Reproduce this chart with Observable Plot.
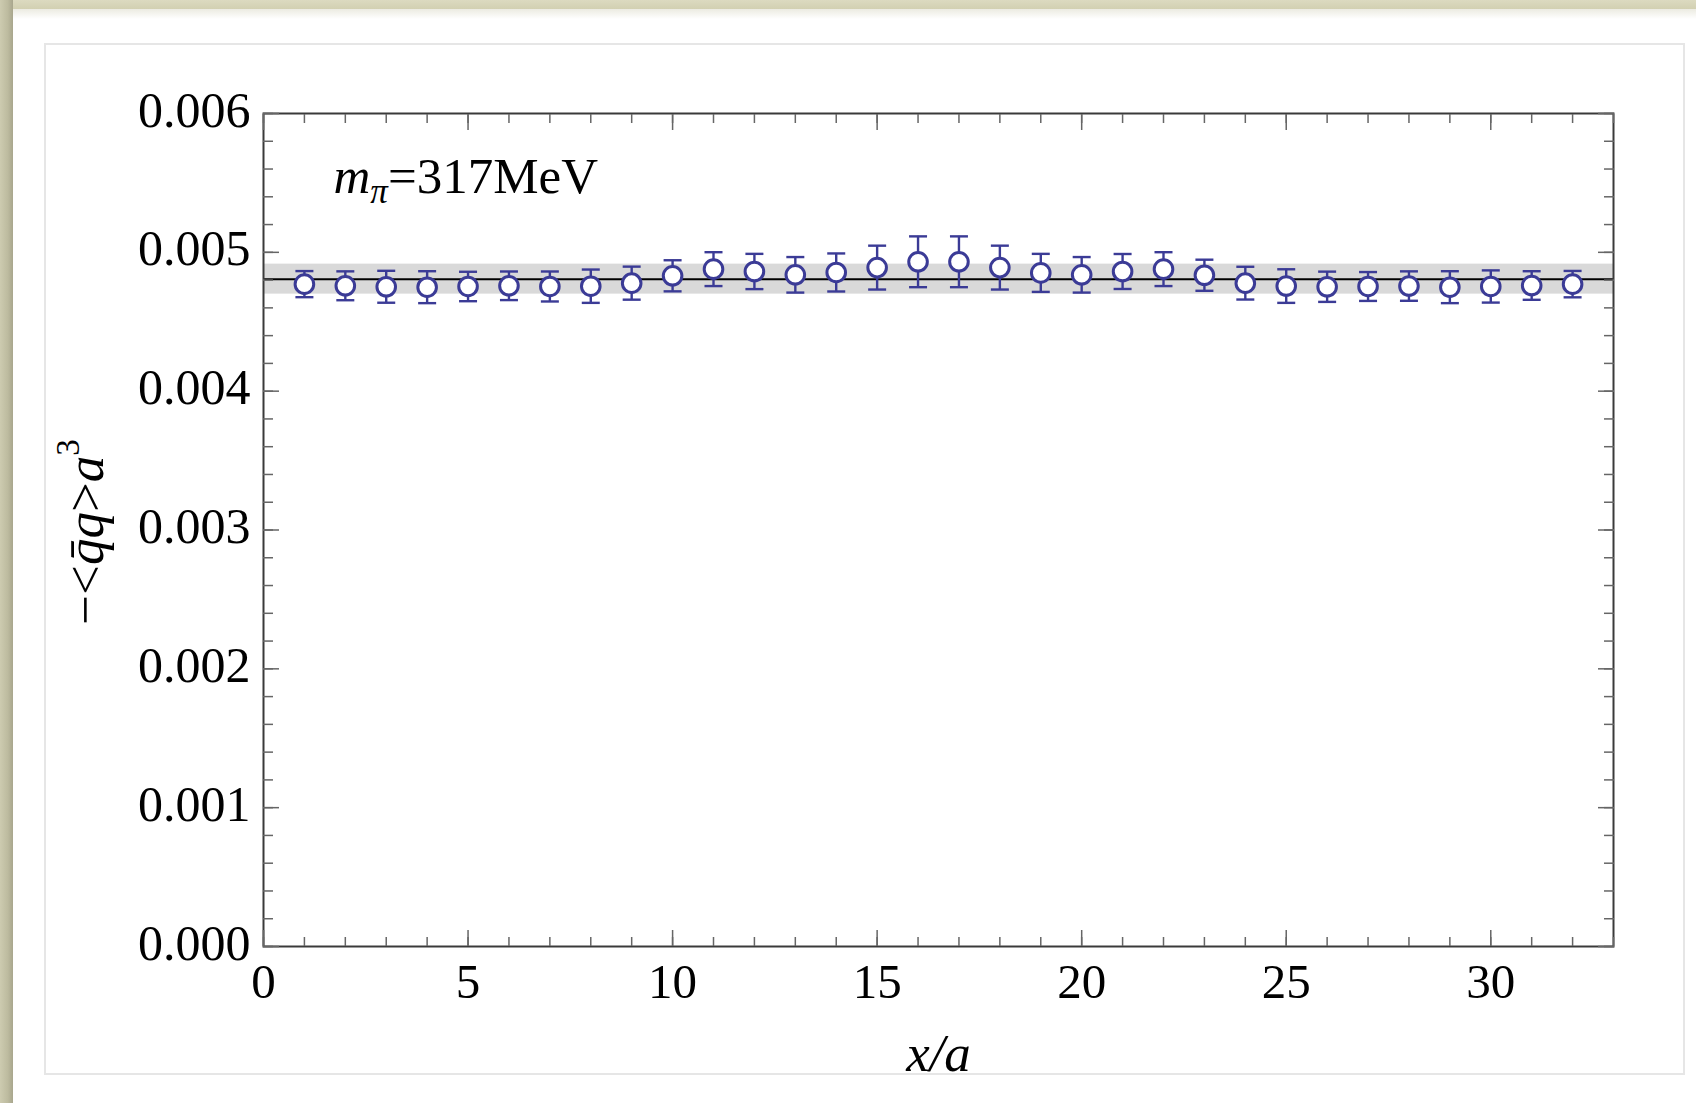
<!DOCTYPE html>
<html>
<head>
<meta charset="utf-8">
<script src="https://cdn.jsdelivr.net/npm/d3@7"></script>
<script src="https://cdn.jsdelivr.net/npm/@observablehq/plot@0.6"></script>
<style>
  html, body { margin: 0; padding: 0; background: #fff; }
  #page { position: relative; width: 1696px; height: 1103px; overflow: hidden; background: #fff; }
  #strip-top { position: absolute; left: 0; top: 0; width: 1696px; height: 9px;
    background: linear-gradient(#dcdac0, #d2d0b2); }
  #strip-top::after { content: ""; position: absolute; left: 0; top: 9px; width: 100%; height: 10px;
    background: linear-gradient(rgba(200,198,170,0.35), rgba(255,255,255,0)); }
  #strip-left { position: absolute; left: 0; top: 0; width: 13px; height: 1103px;
    background: linear-gradient(to right, #cdcbb0, #bdbb9f 60%, #a8a68d); }
  #panel { position: absolute; left: 44px; top: 43px; width: 1637px; height: 1028px;
    border: 2px solid #e6e6e6; background: #fff; }
  #chart { position: absolute; left: 0; top: 0; }
</style>
</head>
<body>
<div id="page">
  <div id="strip-top"></div>
  <div id="strip-left"></div>
  <div id="panel"></div>
  <div id="chart"></div>
</div>
<script>
// Chiral condensate -<q̄q>a^3 on each lattice slice x/a, m_π = 317 MeV
const sites = [1, 2, 3, 4, 5, 6, 7, 8, 9, 10, 11, 12, 13, 14, 15, 16,
               17, 18, 19, 20, 21, 22, 23, 24, 25, 26, 27, 28, 29, 30, 31, 32];
const condensate = [0.004771, 0.004759, 0.004752, 0.004749, 0.004754, 0.004759, 0.004754, 0.004756,
                    0.004778, 0.004831, 0.004879, 0.004862, 0.004838, 0.004855, 0.004890, 0.004932,
                    0.004932, 0.004890, 0.004852, 0.004838, 0.004862, 0.004879, 0.004835, 0.004778,
                    0.004757, 0.004752, 0.004754, 0.004757, 0.004749, 0.004754, 0.004761, 0.004771];
const errors = [0.000094, 0.000104, 0.000115, 0.000115, 0.000106, 0.000103, 0.000108, 0.000120,
                0.000119, 0.000112, 0.000122, 0.000127, 0.000128, 0.000137, 0.000158, 0.000183,
                0.000183, 0.000158, 0.000137, 0.000128, 0.000126, 0.000122, 0.000112, 0.000118,
                0.000121, 0.000109, 0.000104, 0.000106, 0.000115, 0.000116, 0.000103, 0.000095];

// Constant fit and its uncertainty band
const fitValue = 0.004807;
const fitError = 0.000108;

// Axis ticks
const xTickLabels = [0, 5, 10, 15, 20, 25, 30];
const xMinorTicks = d3.range(0, 34, 1);
const yTickLabels = [0, 0.001, 0.002, 0.003, 0.004, 0.005, 0.006];
const yMinorTicks = d3.range(0, 31).map(i => i * 0.0002);

// Label texts
const xLabel = "x/a";
const yLabelParts = [
  {text: "\u2212<"},
  {text: "q\u0304q", italic: true},
  {text: ">"},
  {text: "a", italic: true},
  {text: "3", size: 33, dy: -24}
];
const massParts = [
  {text: "m", italic: true},
  {text: "\u03C0", italic: true, size: 35, dy: 10},
  {text: "=317MeV", dy: -10}
];

const table = sites.map((x, i) => ({x, y: condensate[i], lo: condensate[i] - errors[i], hi: condensate[i] + errors[i]}));

const serif = "'Liberation Serif', 'Times New Roman', Times, serif";
const pointColor = "#3b3b96";
const tickColor = "#666";

// Error-bar cap: a short horizontal stroke whose half-length is the dot radius
const capSymbol = {
  draw(context, size) {
    const r = Math.sqrt(size / Math.PI);
    context.moveTo(-r, 0);
    context.lineTo(r, 0);
  }
};

const yLabelText = yLabelParts.map(p => p.text).join("");
const massText = massParts.map(p => p.text).join("");

const chart = Plot.plot({
  width: 1696,
  height: 1103,
  marginLeft: 263,
  marginRight: 83,
  marginTop: 113,
  marginBottom: 157,
  style: {background: "transparent", fontFamily: serif, fontSize: "48px", color: "black", overflow: "visible"},
  x: {domain: [0, 33], axis: null},
  y: {domain: [0, 0.006], axis: null},
  marks: [
    // fit band and central value
    Plot.rect([{lo: fitValue - fitError, hi: fitValue + fitError}], {y1: "lo", y2: "hi", fill: "#d9d9d9"}),
    Plot.ruleY([fitValue], {stroke: "black", strokeWidth: 2}),

    // frame with inward major/minor ticks on all four sides
    Plot.frame({stroke: "#3a3a3a", strokeWidth: 2}),
    Plot.axisX(xMinorTicks, {anchor: "bottom", tickSize: -9, fill: "none", label: null, stroke: tickColor, strokeWidth: 1.5}),
    Plot.axisX(xTickLabels, {anchor: "bottom", tickSize: -16, fill: "none", label: null, stroke: tickColor, strokeWidth: 1.5}),
    Plot.axisX(xMinorTicks, {anchor: "top", tickSize: -9, fill: "none", label: null, stroke: tickColor, strokeWidth: 1.5}),
    Plot.axisX(xTickLabels, {anchor: "top", tickSize: -16, fill: "none", label: null, stroke: tickColor, strokeWidth: 1.5}),
    Plot.axisY(yMinorTicks, {anchor: "left", tickSize: -10, fill: "none", label: null, stroke: tickColor, strokeWidth: 1.5}),
    Plot.axisY(yTickLabels, {anchor: "left", tickSize: -16, fill: "none", label: null, stroke: tickColor, strokeWidth: 1.5}),
    Plot.axisY(yMinorTicks, {anchor: "right", tickSize: -10, fill: "none", label: null, stroke: tickColor, strokeWidth: 1.5}),
    Plot.axisY(yTickLabels, {anchor: "right", tickSize: -16, fill: "none", label: null, stroke: tickColor, strokeWidth: 1.5}),

    // tick labels
    Plot.axisX(xTickLabels, {anchor: "bottom", tickSize: 0, tickPadding: 17, fontSize: 49, label: null, fill: "black"}),
    Plot.axisY(yTickLabels, {anchor: "left", tickSize: 0, tickPadding: 13, tickFormat: d3.format(".3f"), fontSize: 50, label: null, fill: "black", dy: -3}),

    // data with error bars
    Plot.ruleX(table, {x: "x", y1: "lo", y2: "hi", stroke: pointColor, strokeWidth: 2.4}),
    Plot.dot(table, {x: "x", y: "lo", symbol: capSymbol, r: 9, stroke: pointColor, strokeWidth: 2.4, fill: "none"}),
    Plot.dot(table, {x: "x", y: "hi", symbol: capSymbol, r: 9, stroke: pointColor, strokeWidth: 2.4, fill: "none"}),
    Plot.dot(table, {x: "x", y: "y", r: 9.3, fill: "white", stroke: pointColor, strokeWidth: 3}),

    // labels
    Plot.text([xLabel], {frameAnchor: "bottom", text: d => d, lineAnchor: "bottom", dy: 124, fontSize: 53, fontStyle: "italic", fill: "black"}),
    Plot.text([yLabelText], {frameAnchor: "left", text: d => d, rotate: -90, textAnchor: "middle", lineAnchor: "bottom", dx: -161, dy: 2, fontSize: 53, fill: "black"}),
    Plot.text([massText], {frameAnchor: "top-left", text: d => d, textAnchor: "start", lineAnchor: "bottom", dx: 70, dy: 79, fontSize: 51, fill: "black"})
  ]
});

// Rebuild rich labels (italics, sub/superscripts) as tspans
function richText(whole, parts) {
  d3.select(chart).selectAll("text")
    .filter(function() { return this.textContent === whole; })
    .each(function() {
      const t = d3.select(this);
      t.text(null);
      for (const p of parts) {
        const s = t.append("tspan").text(p.text);
        if (p.italic) s.attr("font-style", "italic");
        if (p.size) s.attr("font-size", p.size);
        if (p.dy) s.attr("dy", p.dy);
      }
    });
}
richText(yLabelText, yLabelParts);
richText(massText, massParts);

document.getElementById("chart").appendChild(chart);
</script>
</body>
</html>
